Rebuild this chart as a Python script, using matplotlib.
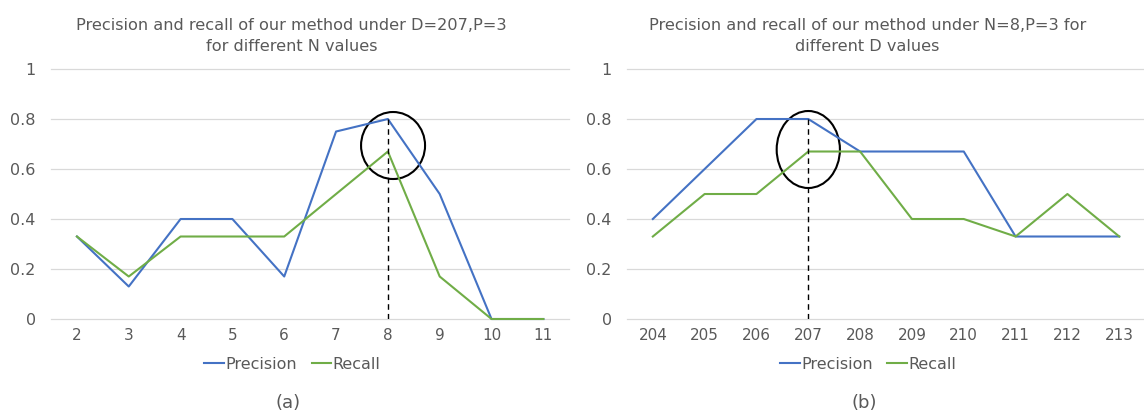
import numpy as np
import matplotlib
matplotlib.use("Agg")
import matplotlib.pyplot as plt
from matplotlib.patches import Ellipse

# panel (a): varying N with D=207, P=3
n_values = ['2', '3', '4', '5', '6', '7', '8', '9', '10', '11']
n_precision = [0.33, 0.13, 0.40, 0.40, 0.17, 0.75, 0.80, 0.50, 0.0, 0.0]
n_recall = [0.33, 0.17, 0.33, 0.33, 0.33, 0.50, 0.67, 0.17, 0.0, 0.0]

# panel (b): varying D with N=8, P=3
d_values = ['204', '205', '206', '207', '208', '209', '210', '211', '212', '213']
d_precision = [0.40, 0.60, 0.80, 0.80, 0.67, 0.67, 0.67, 0.33, 0.33, 0.33]
d_recall = [0.33, 0.50, 0.50, 0.67, 0.67, 0.40, 0.40, 0.33, 0.50, 0.33]

y_ticks = [0, 0.2, 0.4, 0.6, 0.8, 1]
y_labels = ['0', '0.2', '0.4', '0.6', '0.8', '1']

BLUE = '#4472C4'
GREEN = '#70AD47'
TEXT = '#595959'


def draw_panel(ax, cats, prec, rec, title, chosen, tag, ell_w, ell_h, ell_dx, ell_y):
    x = np.arange(len(cats))
    for y in y_ticks:
        ax.axhline(y, color='#D9D9D9', lw=0.9, zorder=0, clip_on=False)
    p, = ax.plot(x, prec, color=BLUE, lw=1.5, label='Precision', clip_on=False)
    r, = ax.plot(x, rec, color=GREEN, lw=1.5, label='Recall', clip_on=False)
    # highlight the chosen setting
    i = cats.index(chosen)
    ax.plot([i, i], [0, prec[i]], color='black', lw=1.0, ls=(0, (4, 3)))
    ax.add_patch(Ellipse((i + ell_dx, ell_y), ell_w, ell_h, fill=False,
                         edgecolor='black', lw=1.5, clip_on=False))
    ax.set_xlim(-0.5, len(cats) - 0.5)
    ax.set_ylim(0, 1)
    ax.set_xticks(x)
    ax.set_xticklabels(cats, fontsize=11, color=TEXT)
    ax.set_yticks(y_ticks)
    ax.set_yticklabels(y_labels, fontsize=11.5, color=TEXT)
    ax.tick_params(axis='x', length=0, pad=6.5)
    ax.tick_params(axis='y', length=0, pad=11)
    for s in ax.spines.values():
        s.set_visible(False)
    ax.set_title(title, fontsize=11.6, color=TEXT, pad=13, linespacing=1.5, x=0.464)
    ax.legend(handles=[p, r], loc='center', bbox_to_anchor=(0.466, -0.18),
              ncol=2, frameon=False, fontsize=11.5, labelcolor=TEXT,
              handlelength=1.2, handletextpad=0.12, columnspacing=0.9,
              borderpad=0)
    ax.text(0.4575, -0.336, tag, transform=ax.transAxes, ha='center', va='center',
            fontsize=13, color=TEXT)


fig = plt.figure(figsize=(11.44, 4.17), dpi=100)
ax1 = fig.add_axes([0.0446, 0.235, 0.453, 0.5995])
ax2 = fig.add_axes([0.548, 0.235, 0.453, 0.5995])

draw_panel(ax1, n_values, n_precision, n_recall,
           'Precision and recall of our method under D=207,P=3\nfor different N values',
           '8', '(a)', 1.235, 0.268, 0.1, 0.694)
draw_panel(ax2, d_values, d_precision, d_recall,
           'Precision and recall of our method under N=8,P=3 for\ndifferent D values',
           '207', '(b)', 1.22, 0.308, 0.0, 0.678)

fig.savefig('out.png', dpi=100)
